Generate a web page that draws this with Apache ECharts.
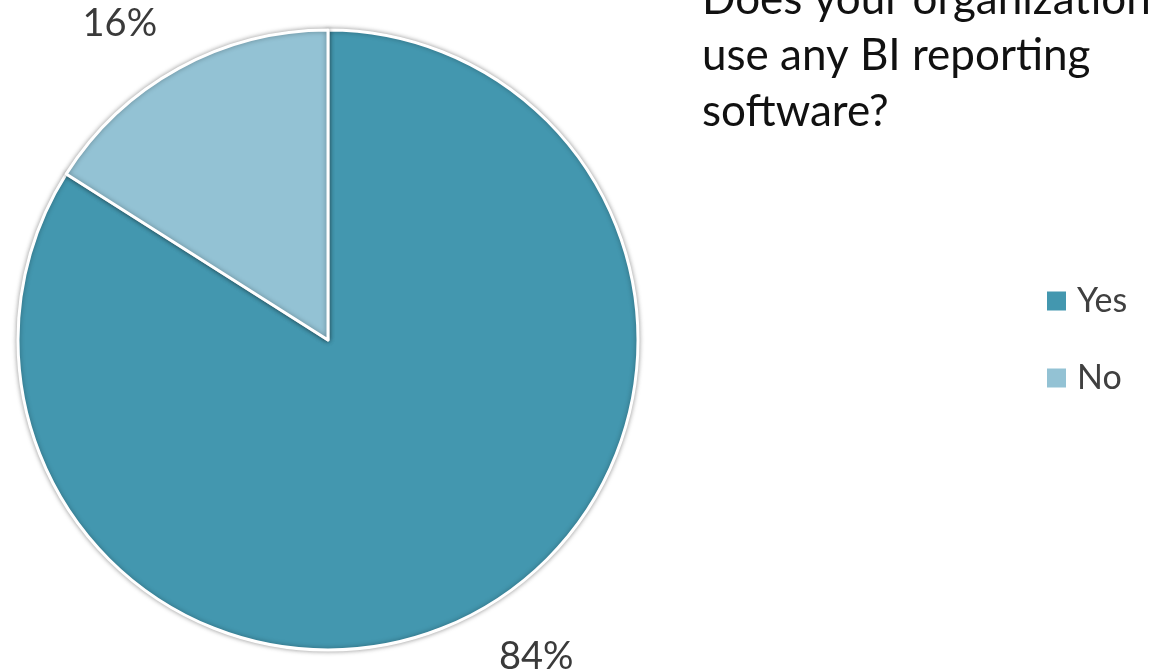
<!DOCTYPE html>
<html>
<head>
<meta charset="utf-8">
<script src="https://cdn.jsdelivr.net/npm/echarts@6/dist/echarts.min.js"></script>
<style>
  html, body { margin: 0; padding: 0; background: #fff; }
  #chart { width: 1151px; height: 672px; }
</style>
</head>
<body>
<div id="chart"></div>
<script>
// Survey answers and their shares (percent)
const categories = ['Yes', 'No'];
const shares = [84, 16];
const sliceColors = ['#4397AF', '#93C2D4'];
const question = 'Does your organization\nuse any BI reporting\nsoftware?';

const chart = echarts.init(document.getElementById('chart'));
const fontFamily = 'Lato, "Open Sans", sans-serif';

chart.setOption({
  backgroundColor: '#ffffff',
  animation: false,
  title: {
    text: question,
    left: 697,
    top: -33,
    textStyle: {
      fontFamily: fontFamily,
      fontSize: 44,
      fontWeight: 'normal',
      lineHeight: 56,
      color: '#111111'
    }
  },
  legend: {
    orient: 'vertical',
    left: 1040,
    top: 279,
    itemWidth: 21,
    itemHeight: 21,
    itemGap: 43,
    icon: 'rect',
    data: categories,
    textStyle: {
      fontFamily: fontFamily,
      fontSize: 34,
      color: '#404040',
      padding: [0, 0, 0, 5]
    }
  },
  series: [{
    type: 'pie',
    center: [328, 340],
    radius: 310,
    startAngle: 90,
    clockwise: true,
    data: categories.map((name, i) => ({
      name: name,
      value: shares[i],
      itemStyle: { color: sliceColors[i] }
    })),
    itemStyle: {
      borderColor: '#ffffff',
      borderWidth: 3,
      shadowBlur: 5,
      shadowColor: 'rgba(0,0,0,0.35)'
    },
    label: {
      show: true,
      position: 'outside',
      formatter: '{c}%',
      fontFamily: fontFamily,
      fontSize: 38,
      color: '#3a3a3a',
      distanceToLabelLine: -3
    },
    labelLine: { show: false, length: 51, length2: 0 }
  }]
});
</script>
</body>
</html>
